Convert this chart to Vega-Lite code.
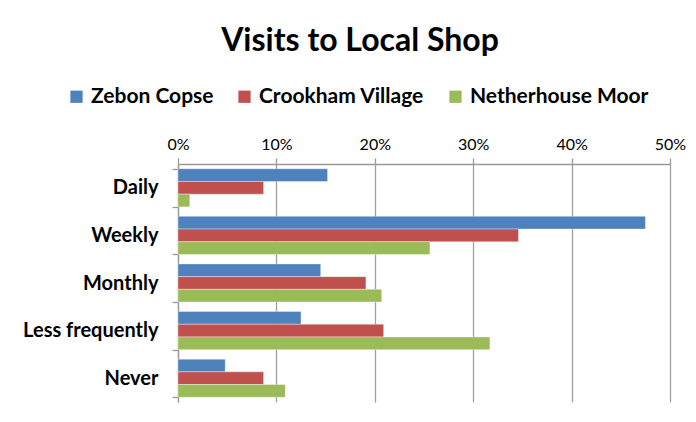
{
  "$schema": "https://vega.github.io/schema/vega-lite/v6.json",
  "width": 492,
  "height": 238,
  "autosize": {"type": "none"},
  "padding": {"left": 178, "top": 164, "right": 26, "bottom": 20},
  "background": "white",
  "title": {
    "text": "Visits to Local Shop",
    "font": "Lato, sans-serif",
    "fontSize": 32,
    "fontWeight": "bold",
    "color": "#000000",
    "anchor": "middle",
    "dx": -64,
    "baseline": "alphabetic",
    "offset": 3
  },
  "data": {
    "values": [
      {"frequency": "Daily", "location": "Zebon Copse", "pct": 15.2},
      {"frequency": "Daily", "location": "Crookham Village", "pct": 8.7},
      {"frequency": "Daily", "location": "Netherhouse Moor", "pct": 1.2},
      {"frequency": "Weekly", "location": "Zebon Copse", "pct": 47.5},
      {"frequency": "Weekly", "location": "Crookham Village", "pct": 34.6},
      {"frequency": "Weekly", "location": "Netherhouse Moor", "pct": 25.6},
      {"frequency": "Monthly", "location": "Zebon Copse", "pct": 14.5},
      {"frequency": "Monthly", "location": "Crookham Village", "pct": 19.1},
      {"frequency": "Monthly", "location": "Netherhouse Moor", "pct": 20.7},
      {"frequency": "Less frequently", "location": "Zebon Copse", "pct": 12.5},
      {"frequency": "Less frequently", "location": "Crookham Village", "pct": 20.9},
      {"frequency": "Less frequently", "location": "Netherhouse Moor", "pct": 31.7},
      {"frequency": "Never", "location": "Zebon Copse", "pct": 4.8},
      {"frequency": "Never", "location": "Crookham Village", "pct": 8.7},
      {"frequency": "Never", "location": "Netherhouse Moor", "pct": 10.9}
    ]
  },
  "mark": {"type": "bar", "stroke": "#ffffff", "strokeWidth": 0.6, "strokeOpacity": 0.6},
  "encoding": {
    "y": {
      "field": "frequency",
      "type": "nominal",
      "sort": ["Daily", "Weekly", "Monthly", "Less frequently", "Never"],
      "scale": {"paddingInner": 0.2, "paddingOuter": 0.1},
      "axis": {
        "title": null,
        "tickBand": "extent",
        "labelFont": "Lato, sans-serif",
        "labelFontSize": 20,
        "labelFontWeight": "bold",
        "labelColor": "#000000",
        "labelPadding": 14,
        "tickSize": 6,
        "tickColor": "#9a9a9a",
        "tickWidth": 1.3,
        "domainColor": "#9a9a9a",
        "domainWidth": 1.3
      }
    },
    "yOffset": {
      "field": "location",
      "type": "nominal",
      "sort": ["Zebon Copse", "Crookham Village", "Netherhouse Moor"]
    },
    "x": {
      "field": "pct",
      "type": "quantitative",
      "scale": {"domain": [0, 50], "nice": false},
      "axis": {
        "orient": "top",
        "title": null,
        "values": [0, 10, 20, 30, 40, 50],
        "labelExpr": "datum.value + '%'",
        "labelFont": "Lato, sans-serif",
        "labelFontSize": 16,
        "labelColor": "#000000",
        "labelPadding": 6,
        "labelFlush": false,
        "grid": true,
        "gridColor": "#a0a0a0",
        "gridWidth": 1.3,
        "tickSize": 6,
        "tickColor": "#9a9a9a",
        "tickWidth": 1.3,
        "domainColor": "#9a9a9a",
        "domainWidth": 1.3
      }
    },
    "color": {
      "field": "location",
      "type": "nominal",
      "scale": {
        "domain": ["Zebon Copse", "Crookham Village", "Netherhouse Moor"],
        "range": ["#4F81BD", "#C0504D", "#9BBB59"]
      },
      "legend": {
        "title": null,
        "orient": "none",
        "direction": "horizontal",
        "legendX": -112,
        "legendY": -78,
        "symbolType": "square",
        "symbolSize": 150,
        "symbolStrokeWidth": 0,
        "labelFont": "Lato, sans-serif",
        "labelFontSize": 21,
        "labelFontWeight": "bold",
        "labelColor": "#000000",
        "labelOffset": 4,
        "columnPadding": 20,
        "labelLimit": 300
      }
    }
  },
  "config": {"view": {"stroke": null}}
}
